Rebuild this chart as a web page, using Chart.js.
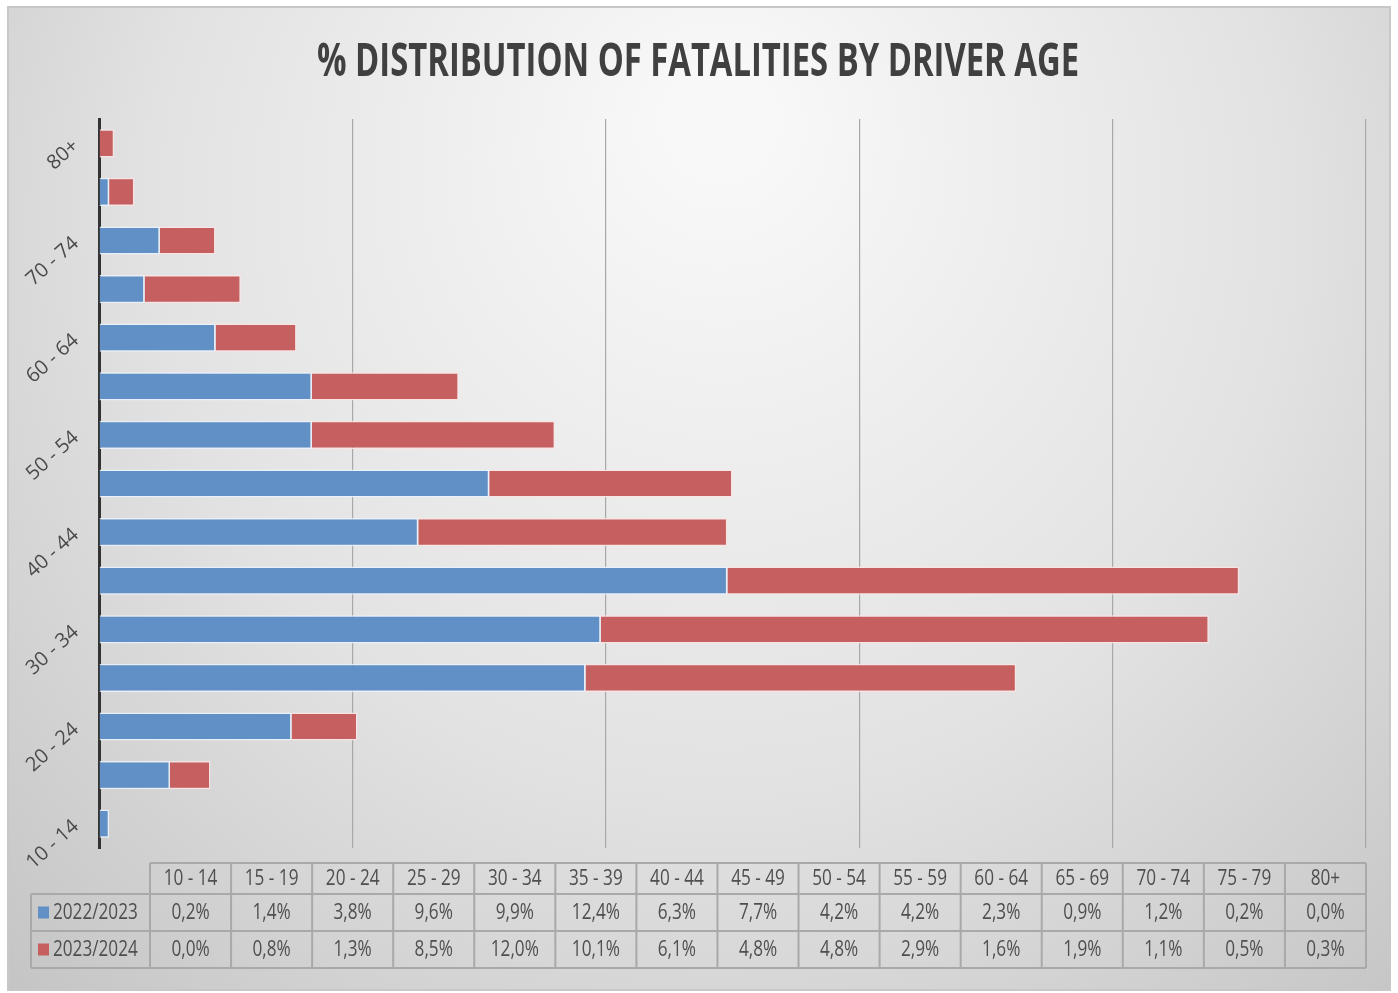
<!DOCTYPE html>
<html>
<head>
<meta charset="utf-8">
<script src="https://cdn.jsdelivr.net/npm/chart.js@4.4.1/dist/chart.umd.min.js"></script>
<style>
  html, body { margin: 0; padding: 0; background: #fff; }
  #wrap { width: 1398px; height: 993px; position: relative; }
</style>
</head>
<body>
<div id="wrap"><canvas id="myChart"></canvas></div>
<script>
const ageGroups = ['10 - 14', '15 - 19', '20 - 24', '25 - 29', '30 - 34', '35 - 39', '40 - 44', '45 - 49',
    '50 - 54', '55 - 59', '60 - 64', '65 - 69', '70 - 74', '75 - 79', '80+'];
const season2022 = [0.2, 1.4, 3.8, 9.6, 9.9, 12.4, 6.3, 7.7, 4.2, 4.2, 2.3, 0.9, 1.2, 0.2, 0.0];
const season2023 = [0.0, 0.8, 1.3, 8.5, 12.0, 10.1, 6.1, 4.8, 4.8, 2.9, 1.6, 1.9, 1.1, 0.5, 0.3];
const seriesNames = ['2022/2023', '2023/2024'];
const chartTitle = '% DISTRIBUTION OF FATALITIES BY DRIVER AGE';

const blue = '#6090c6';
const red = '#c65f5f';

function pct(v) {
    return v.toFixed(1).replace('.', ',') + '%';
}

// grey card behind everything
const background = {
    id: 'background',
    beforeDraw(chart) {
        const c = chart.ctx;
        c.save();
        c.fillStyle = '#ffffff';
        c.fillRect(0, 0, chart.width, chart.height);
        const g = c.createRadialGradient(720, 120, 50, 720, 300, 1000);
        g.addColorStop(0, '#f8f8f8');
        g.addColorStop(0.55, '#e2e2e2');
        g.addColorStop(1, '#c4c4c4');
        c.fillStyle = g;
        c.fillRect(8, 7, 1382, 983);
        c.strokeStyle = '#c8c8c8';
        c.lineWidth = 2;
        c.strokeRect(8, 7, 1382, 983);
        c.restore();
    }
};

// condensed title
const squeezedTitle = {
    id: 'squeezedTitle',
    afterDraw(chart) {
        const c = chart.ctx;
        c.save();
        c.font = 'bold 46px "Open Sans"';
        const w = c.measureText(chartTitle).width;
        const sx = 762 / w;
        c.translate(698, 76);
        c.scale(sx, 1);
        c.fillStyle = '#404040';
        c.textAlign = 'center';
        c.textBaseline = 'alphabetic';
        c.fillText(chartTitle, 0, 0);
        c.restore();
    }
};

// data table under the plot
const dataTable = {
    id: 'dataTable',
    afterDraw(chart) {
        const c = chart.ctx;
        const left = 31, colStart = 150, right = 1366;
        const rows = [863, 894, 931, 968];
        const colW = (right - colStart) / ageGroups.length;
        c.save();
        c.strokeStyle = '#a9a9a9';
        c.lineWidth = 2;
        c.beginPath();
        c.moveTo(colStart, rows[0]); c.lineTo(right, rows[0]);
        for (let i = 1; i < rows.length; i++) {
            c.moveTo(left, rows[i]); c.lineTo(right, rows[i]);
        }
        c.moveTo(left, rows[1]); c.lineTo(left, rows[3]);
        for (let i = 0; i <= ageGroups.length; i++) {
            const x = colStart + i * colW;
            c.moveTo(x, rows[0]); c.lineTo(x, rows[3]);
        }
        c.stroke();

        c.fillStyle = '#4f4f4f';
        c.font = '22px "Open Sans"';
        c.textBaseline = 'middle';
        const drawText = (txt, x, y, align) => {
            c.save();
            c.translate(x, y);
            c.scale(0.78, 1);
            c.textAlign = align;
            c.fillText(txt, 0, 0);
            c.restore();
        };
        const series = [season2022, season2023];
        const colors = [blue, red];
        for (let i = 0; i < ageGroups.length; i++) {
            const cx = colStart + (i + 0.5) * colW;
            drawText(ageGroups[i], cx, (rows[0] + rows[1]) / 2, 'center');
            for (let s = 0; s < 2; s++) {
                drawText(pct(series[s][i]), cx, (rows[s + 1] + rows[s + 2]) / 2, 'center');
            }
        }
        for (let s = 0; s < 2; s++) {
            const y = (rows[s + 1] + rows[s + 2]) / 2;
            c.fillStyle = colors[s];
            c.fillRect(38, y - 6, 11, 12);
            c.fillStyle = '#4f4f4f';
            drawText(seriesNames[s], 53, y, 'left');
        }
        c.restore();
    }
};

const ctx = document.getElementById('myChart').getContext('2d');

const myChart = new Chart(ctx, {
    type: 'bar',
    data: {
        labels: ageGroups,
        datasets: [
            {
                label: seriesNames[0],
                data: season2022,
                backgroundColor: blue,
                borderColor: 'rgba(235,242,252,0.9)',
                borderWidth: 1.5
            },
            {
                label: seriesNames[1],
                data: season2023,
                backgroundColor: red,
                borderColor: 'rgba(252,228,228,0.9)',
                borderWidth: 1.5
            }
        ]
    },
    options: {
        indexAxis: 'y',
        responsive: true,
        maintainAspectRatio: false,
        animation: false,
        layout: {
            padding: { top: 119, right: 32, bottom: 145, left: 0 }
        },
        plugins: {
            legend: { display: false },
            title: { display: false },
            tooltip: { enabled: false }
        },
        datasets: {
            bar: { categoryPercentage: 1, barPercentage: 0.58 }
        },
        scales: {
            x: {
                stacked: true,
                min: 0,
                max: 25,
                ticks: { display: false, stepSize: 5 },
                border: { display: false },
                grid: { color: '#a8a8a8', lineWidth: 1.2, drawTicks: false }
            },
            y: {
                stacked: true,
                reverse: true,
                afterFit(scale) { scale.width = 99; },
                border: { display: true, color: '#333333', width: 3 },
                grid: { display: false, drawTicks: false },
                ticks: {
                    autoSkip: false,
                    minRotation: 42,
                    maxRotation: 42,
                    padding: 23,
                    color: '#4a4a4a',
                    font: { family: 'Open Sans', size: 20 },
                    callback(value, index) {
                        return index % 2 === 0 ? ageGroups[index] : '';
                    }
                }
            }
        }
    },
    plugins: [background, squeezedTitle, dataTable]
});
</script>
</body>
</html>
